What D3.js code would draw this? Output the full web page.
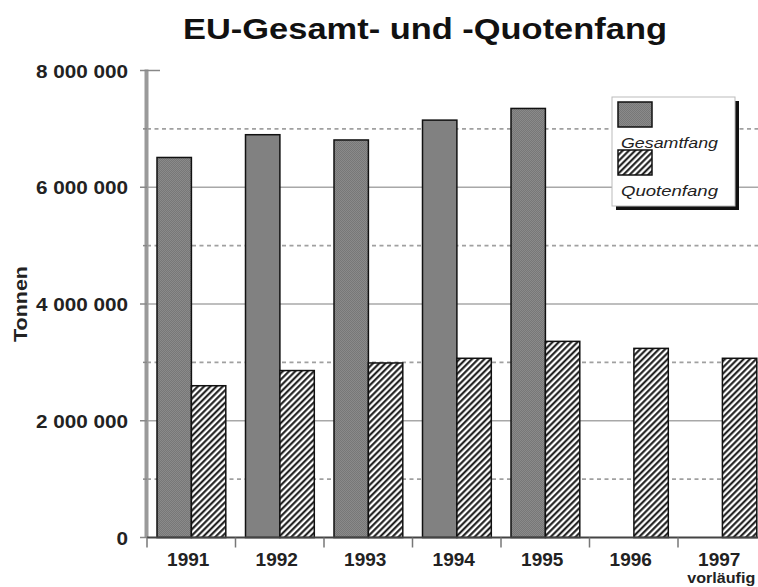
<!DOCTYPE html>
<html>
<head>
<meta charset="utf-8">
<script src="https://cdn.jsdelivr.net/npm/d3@7"></script>
<style>
  html, body { margin: 0; padding: 0; background: #fff; }
  svg { display: block; font-family: "Liberation Sans", Arial, sans-serif; }
</style>
</head>
<body>
<svg id="chart" width="758" height="587"></svg>
<script>
// ---- data ----
const years = ["1991", "1992", "1993", "1994", "1995", "1996", "1997"];
const gesamtfang = [6510000, 6900000, 6810000, 7150000, 7350000, null, null];
const quotenfang = [2600000, 2860000, 2990000, 3070000, 3360000, 3240000, 3070000];
const majorTicks = [0, 2000000, 4000000, 6000000, 8000000];
const minorTicks = [1000000, 3000000, 5000000, 7000000];
const seriesNames = ["Gesamtfang", "Quotenfang"];
const title = "EU-Gesamt- und -Quotenfang";
const yTitle = "Tonnen";
const footnote = "vorläufig";

// ---- layout ----
const svg = d3.select("#chart");
const W = 758, H = 587;
const x0 = 147, xEnd = 766.5, yTop = 70.5, yBase = 537.5;

const y = d3.scaleLinear().domain([0, 8000000]).range([yBase, yTop]);
const x = d3.scaleBand().domain(years).range([x0, xEnd]).padding(0);
const xs = d3.scaleBand().domain(seriesNames).range([10, 78.8]).padding(0);

const fmt = v => d3.format(",")(v).replace(/,/g, " ");

// ---- patterns ----
const defs = svg.append("defs");
const gp = defs.append("pattern").attr("id", "gray").attr("patternUnits", "userSpaceOnUse")
  .attr("width", 2).attr("height", 2);
gp.append("rect").attr("width", 2).attr("height", 2).attr("fill", "#8a8a8a");
gp.append("rect").attr("width", 1).attr("height", 1).attr("fill", "#777");
gp.append("rect").attr("x", 1).attr("y", 1).attr("width", 1).attr("height", 1).attr("fill", "#777");

const hp = defs.append("pattern").attr("id", "hatch").attr("patternUnits", "userSpaceOnUse")
  .attr("width", 4.4).attr("height", 4.4).attr("patternTransform", "rotate(45)");
hp.append("rect").attr("width", 4.4).attr("height", 4.4).attr("fill", "#fff");
hp.append("line").attr("x1", 1.2).attr("y1", 0).attr("x2", 1.2).attr("y2", 4.4)
  .attr("stroke", "#111").attr("stroke-width", 2);

const fills = { Gesamtfang: "url(#gray)", Quotenfang: "url(#hatch)" };

// ---- gridlines ----
svg.append("g").selectAll("line.major").data(majorTicks.filter(d => d > 0 && d < 8000000)).join("line")
  .attr("x1", x0).attr("x2", W).attr("y1", d => y(d)).attr("y2", d => y(d))
  .attr("stroke", "#a8a8a8").attr("stroke-width", 1.6);
svg.append("g").selectAll("line.minor").data(minorTicks).join("line")
  .attr("x1", x0).attr("x2", W).attr("y1", d => y(d)).attr("y2", d => y(d))
  .attr("stroke", "#a0a0a0").attr("stroke-width", 1.6).attr("stroke-dasharray", "4,3.5");

// ---- bars ----
const rows = years.map((yr, i) => ({ year: yr, Gesamtfang: gesamtfang[i], Quotenfang: quotenfang[i] }));
const groups = svg.append("g").selectAll("g").data(rows).join("g")
  .attr("transform", d => `translate(${x(d.year)},0)`);
groups.selectAll("rect").data(d => seriesNames.map(k => ({ key: k, value: d[k] })).filter(e => e.value != null))
  .join("rect")
  .attr("x", d => xs(d.key)).attr("width", xs.bandwidth())
  .attr("y", d => y(d.value)).attr("height", d => yBase - y(d.value))
  .attr("fill", d => fills[d.key]).attr("stroke", "#111").attr("stroke-width", 1.5);

// ---- y axis ----
svg.append("line").attr("x1", x0 - 0.5).attr("x2", x0 - 0.5).attr("y1", yTop - 1).attr("y2", yBase)
  .attr("stroke", "#9a9a9a").attr("stroke-width", 4);
svg.append("g").selectAll("line").data(majorTicks).join("line")
  .attr("x1", 140).attr("x2", x0).attr("y1", d => y(d)).attr("y2", d => y(d))
  .attr("stroke", "#888").attr("stroke-width", 1.5);
svg.append("g").selectAll("line").data(minorTicks).join("line")
  .attr("x1", 143).attr("x2", x0).attr("y1", d => y(d)).attr("y2", d => y(d))
  .attr("stroke", "#888").attr("stroke-width", 1.5);
svg.append("line").attr("x1", x0).attr("x2", 160).attr("y1", y(8000000)).attr("y2", y(8000000))
  .attr("stroke", "#888").attr("stroke-width", 1.5);

svg.append("g").selectAll("text").data(majorTicks).join("text")
  .attr("transform", d => `translate(128,${y(d) + 7}) scale(1.09,1)`)
  .attr("text-anchor", "end").attr("font-size", 19).attr("font-weight", "bold").attr("fill", "#222")
  .text(d => fmt(d));

svg.append("text").attr("transform", `translate(27,304) rotate(-90)`)
  .attr("text-anchor", "middle").attr("font-size", 19).attr("font-weight", "bold").attr("fill", "#222")
  .attr("textLength", 76).attr("lengthAdjust", "spacingAndGlyphs")
  .text(yTitle);

// ---- x axis ----
svg.append("line").attr("x1", x0).attr("x2", W).attr("y1", yBase).attr("y2", yBase)
  .attr("stroke", "#444").attr("stroke-width", 2);
svg.append("g").selectAll("line").data(years).join("line")
  .attr("x1", d => x(d)).attr("x2", d => x(d)).attr("y1", yBase).attr("y2", yBase + 10)
  .attr("stroke", "#777").attr("stroke-width", 1.5);
svg.append("g").selectAll("text").data(years).join("text")
  .attr("x", d => x(d) + x.bandwidth() / 2 - 3).attr("y", 566)
  .attr("text-anchor", "middle").attr("font-size", 19).attr("font-weight", "bold").attr("fill", "#222")
  .text(d => d);
svg.append("text").attr("x", x(years[6]) + x.bandwidth() / 2 - 1).attr("y", 583)
  .attr("text-anchor", "middle").attr("font-size", 14).attr("font-weight", "bold").attr("fill", "#222")
  .attr("textLength", 68).attr("lengthAdjust", "spacingAndGlyphs")
  .text(footnote);

// ---- title ----
svg.append("text").attr("x", 425).attr("y", 39).attr("text-anchor", "middle")
  .attr("font-size", 30).attr("font-weight", "bold").attr("fill", "#111")
  .attr("textLength", 484).attr("lengthAdjust", "spacingAndGlyphs")
  .text(title);

// ---- legend ----
const lg = svg.append("g");
lg.append("rect").attr("x", 616).attr("y", 101).attr("width", 123).attr("height", 109).attr("fill", "#111");
lg.append("rect").attr("x", 612).attr("y", 97).attr("width", 123).attr("height", 109)
  .attr("fill", "#fff").attr("stroke", "#bbb").attr("stroke-width", 1);
const legY = [102, 150];
const textY = [148, 196];
seriesNames.forEach((k, i) => {
  lg.append("rect").attr("x", 618).attr("y", legY[i]).attr("width", 34).attr("height", 25)
    .attr("fill", fills[k]).attr("stroke", "#111").attr("stroke-width", 1.5);
  lg.append("text").attr("x", 621).attr("y", textY[i]).attr("font-size", 15).attr("font-style", "italic")
    .attr("fill", "#222").attr("textLength", 97).attr("lengthAdjust", "spacingAndGlyphs").text(k);
});
</script>
</body>
</html>
